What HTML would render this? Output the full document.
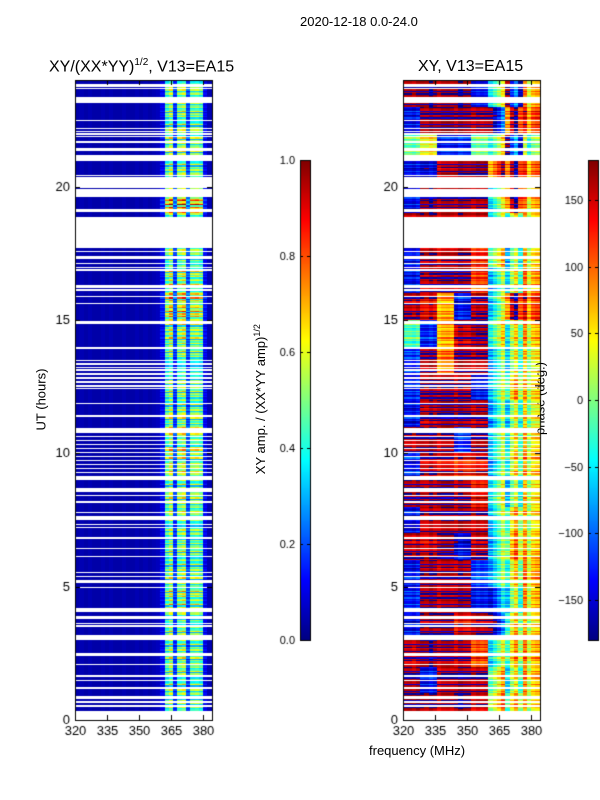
<!DOCTYPE html>
<html><head><meta charset="utf-8">
<style>
body{margin:0;background:#fff;width:600px;height:800px;overflow:hidden;position:relative;font-family:"Liberation Sans",sans-serif;color:#000}
.t{position:absolute;font-size:13px;white-space:nowrap}
canvas{position:absolute}
</style></head><body>
<div class="t" style="left:300px;top:14px">2020-12-18 0.0-24.0</div>
<div class="t" style="left:49px;top:57px;font-size:16px">XY/(XX*YY)<sup style="font-size:10px">1/2</sup>, V13=EA15</div>
<div class="t" style="left:418px;top:58px;font-size:16px">XY, V13=EA15</div>
<div class="t" style="left:1px;top:392px;transform:rotate(-90deg);transform-origin:center;width:80px;text-align:center">UT (hours)</div>
<div class="t" style="left:369px;top:743px">frequency (MHz)</div>
<div class="t" style="left:160px;top:391px;width:200px;text-align:center;transform:rotate(-90deg)">XY amp. / (XX*YY amp)<sup style="font-size:9px">1/2</sup></div>
<div class="t" style="left:490px;top:391px;width:100px;text-align:center;transform:rotate(-90deg)">phase (deg.)</div>
<canvas id="c" width="600" height="800" style="left:0;top:0"></canvas>
<script>
const hoursBlank=[[23.75,23.85],[23.65,23.72],[23.15,23.35],[22.45,22.52],[22.15,22.2],[22.05,22.1],[21.95,22.0],[21.85,21.9],[21.65,21.72],[21.35,21.45],[20.95,21.2],[20.4,20.45],[19.95,20.35],[19.6,19.9],[19.05,19.15],[17.7,18.85],[17.55,17.6],[17.3,17.38],[17.08,17.13],[16.97,17.02],[16.87,16.92],[16.2,16.3],[16.1,16.14],[15.85,15.9],[15.6,15.67],[14.85,14.95],[13.92,13.98],[13.45,13.52],[13.3,13.38],[13.2,13.25],[13.1,13.15],[12.95,13.0],[12.8,12.85],[12.65,12.7],[12.5,12.55],[12.38,12.43],[11.85,11.92],[11.35,11.45],[10.75,10.95],[10.6,10.65],[10.45,10.5],[10.3,10.35],[10.15,10.2],[10.0,10.05],[9.85,9.9],[9.7,9.75],[9.55,9.6],[9.4,9.45],[9.25,9.3],[9.0,9.15],[8.55,8.72],[8.4,8.45],[8.15,8.2],[7.75,7.8],[7.5,7.65],[7.3,7.35],[7.2,7.25],[6.8,6.85],[6.4,6.45],[6.1,6.15],[5.5,5.55],[5.35,5.4],[5.15,5.25],[4.95,5.0],[4.05,4.2],[3.8,3.92],[3.6,3.65],[3.5,3.55],[3.0,3.2],[2.4,2.5],[2.05,2.1],[1.6,1.72],[1.45,1.5],[1.15,1.25],[0.8,0.9],[0.65,0.7],[0.5,0.55],[0,0.33]];
const ampColumns=[0.04,0.05,0.04,0.05,0.04,0.04,0.05,0.04,0.05,0.04,0.04,0.05,0.04,0.04,0.05,0.04,0.05,0.04,0.05,0.06,0.12,0.45,0.55,0.18,0.5,0.55,0.2,0.48,0.5,0.45,0.12,0.05];
const ampHourGain=[1,1,1,1,1.1,1,1,1,1,1.05,1.2,1,1,1,1.05,1.25,1.1,1,1,1.5,1,1,1,1];
const ampSubRow=[1,0.7,1.2,0.85,1.1,0.6,1.3,0.9,0.75,1.15];
const phaseGrid=[
[170,160,150,170,140,60,20,40],[160,-150,150,160,150,30,-20,50],[150,170,160,150,100,-10,20,60],[-150,160,170,130,150,-140,10,40],
[-140,160,150,160,-150,-100,-30,50],[-150,160,150,150,-130,-40,0,60],[150,140,170,-160,150,-30,40,50],[-150,150,160,160,150,-20,20,40],
[160,150,170,150,120,-10,-40,30],[-140,150,140,120,130,-30,0,50],[150,160,150,-140,160,-20,-10,40],[-150,150,170,160,150,-40,-30,20],
[-140,160,160,150,-150,-20,20,40],[-130,160,80,160,150,-30,-20,30],[-30,-140,60,140,160,10,-10,50],[150,130,60,-150,150,-20,120,100],
[-150,150,170,160,100,-30,-20,60],[-140,160,150,160,120,40,-30,50],[150,160,150,150,150,0,0,50],[-150,170,160,160,150,-10,120,60],
[-150,-160,150,160,170,120,130,90],[-30,20,-150,-150,-30,0,-150,-20],[-150,160,170,160,150,-140,120,100],[160,170,160,170,-150,0,-150,60]];
const phaseSubRow=[0,40,0,-20,30,0,50,-10,0,20];
const phaseColTex=[0,10,-20,30,0,-10,40,0,-30,10,20,0,-20,40,10,0,-10,30,0,20,-60,-30,0,40,-50,20,60,-20,30,-40,0,10];
const ampTicks=["0.0","0.2","0.4","0.6","0.8","1.0"];
const phaseTicks=[-150,-100,-50,0,50,100,150];
const hourTicks=[0,5,10,15,20];
const freqTicks=[320,335,350,365,380];

const PT=80,PB=720,F0=320,F1=384.2;
const yH=h=>PB-(h/24)*(PB-PT);
const xF=(x0,x1)=>f=>x0+(f-F0)/(F1-F0)*(x1-x0);
function jet(v){v=Math.max(0,Math.min(1,v));
 const r=Math.max(0,Math.min(1,1.5-Math.abs(4*v-3))),g=Math.max(0,Math.min(1,1.5-Math.abs(4*v-2))),b=Math.max(0,Math.min(1,1.5-Math.abs(4*v-1)));
 return `rgb(${Math.round(r*255)},${Math.round(g*255)},${Math.round(b*255)})`;}
function blank(h){return hoursBlank.some(b=>h>=b[0]&&h<b[1]);}
const ctx=document.getElementById('c').getContext('2d');
const ROWS=480;
function drawPanel(x0,x1,valFn){
 const xs=xF(x0,x1);
 for(let r=0;r<ROWS;r++){const h0=r*0.05,hm=h0+0.025;if(blank(hm))continue;
  const ya=Math.round(yH(h0+0.05)),yb=Math.round(yH(h0));
  for(let c=0;c<32;c++){const f=F0+c*2;const xa=Math.round(xs(f)),xb=Math.min(x1,Math.round(xs(f+2)));
   ctx.fillStyle=jet(valFn(r,c,Math.floor(h0)));ctx.fillRect(xa,ya,xb-xa,yb-ya);}}
}
drawPanel(75,212,(r,c,h)=>{let v=ampColumns[c];if(v>0.1)v=v*ampHourGain[h]*ampSubRow[r%10];return v;});
drawPanel(403,540,(r,c,h)=>{let p=phaseGrid[h][Math.floor(c/4)]+phaseSubRow[r%10]+(c<20?phaseColTex[c]*0.3:phaseColTex[c]);p=((p+180)%360+360)%360-180;return (p+180)/360;});
ctx.strokeStyle='#000';ctx.lineWidth=1;ctx.fillStyle='#000';ctx.font='13px "Liberation Sans", sans-serif';
[[75,212],[403,540]].forEach(([x0,x1])=>{ctx.strokeRect(x0+0.5,PT+0.5,x1-x0,PB-PT);
 const xs=xF(x0,x1);ctx.textAlign='center';ctx.textBaseline='top';
 freqTicks.forEach(f=>{const x=Math.round(xs(f))+0.5;ctx.beginPath();ctx.moveTo(x,PB);ctx.lineTo(x,PB-5);ctx.moveTo(x,PT);ctx.lineTo(x,PT+5);ctx.stroke();ctx.fillText(f,x,PB+5);});
 ctx.textAlign='right';ctx.textBaseline='middle';
 hourTicks.forEach(h=>{const y=Math.round(yH(h))+0.5;ctx.beginPath();ctx.moveTo(x0,y);ctx.lineTo(x0+5,y);ctx.moveTo(x1,y);ctx.lineTo(x1-5,y);ctx.stroke();ctx.fillText(h,x0-5,y);});
});
function cbar(x,lab,vals,fmt){for(let y=160;y<640;y++){ctx.fillStyle=jet((640-y)/480);ctx.fillRect(x,y,10,1);}
 ctx.strokeRect(x+0.5,160.5,10,480);ctx.fillStyle='#000';ctx.textAlign='right';ctx.textBaseline='middle';ctx.font='11px "Liberation Sans", sans-serif';
 vals.forEach((v,i)=>{const y=Math.round(640-lab(v,i)*480)+0.5;ctx.beginPath();ctx.moveTo(x,y);ctx.lineTo(x+3,y);ctx.moveTo(x+10,y);ctx.lineTo(x+7,y);ctx.stroke();ctx.fillText(fmt(v),x-5,y);});}
cbar(300,(v,i)=>i/5,ampTicks,v=>v);
cbar(588,v=>(v+180)/360,phaseTicks,v=>v<0?'\u2212'+(-v):''+v);
</script>
</body></html>
